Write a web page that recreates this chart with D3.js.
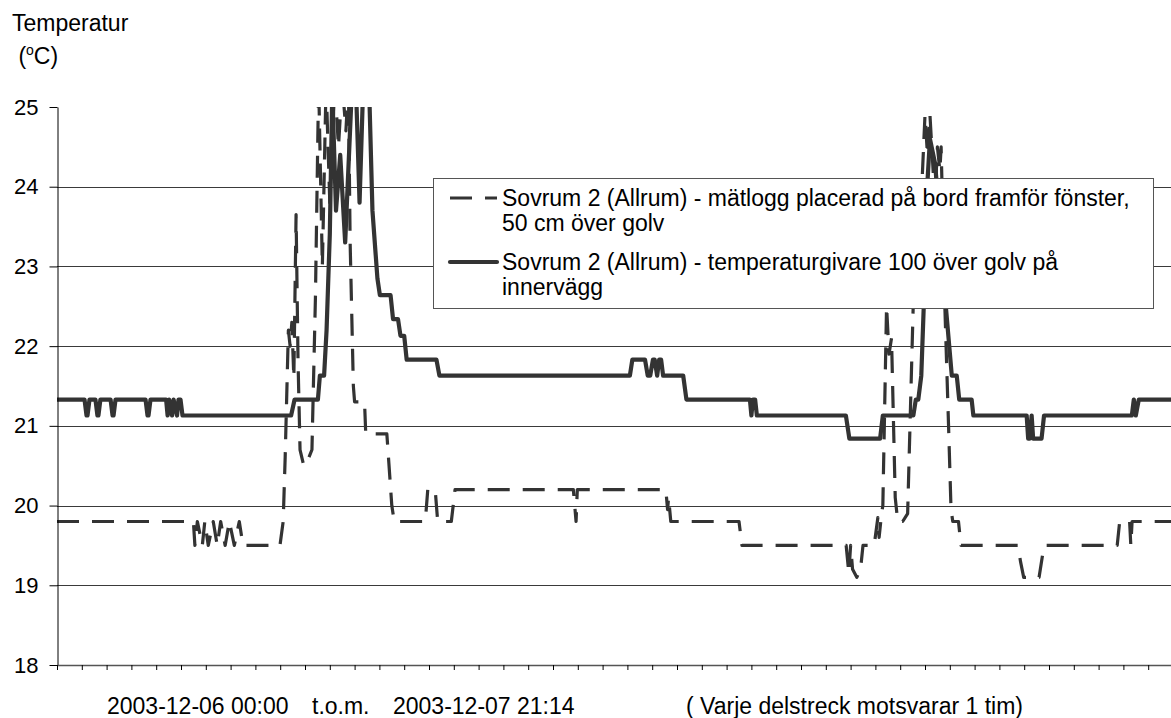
<!DOCTYPE html>
<html><head><meta charset="utf-8">
<script src="https://cdn.jsdelivr.net/npm/d3@7"></script>
<style>
html,body{margin:0;padding:0;background:#fff;}
svg{display:block;font-family:"Liberation Sans",Arial,sans-serif;}
</style></head><body>
<svg id="chart" width="1171" height="718"></svg>
<script>
// Measurement period: 2003-12-06 00:00 to 2003-12-07 21:14, time in hours from start
const periodHours = 45 + 14 / 60;
const hourTicks = d3.range(0, 46);
const tempTicks = [18, 19, 20, 21, 22, 23, 24, 25];
const gridTemps = [19, 20, 21, 22, 23, 24];

const legendLines = [
  ["Sovrum 2 (Allrum) - mätlogg placerad på bord framför fönster,", "50 cm över golv"],
  ["Sovrum 2 (Allrum) - temperaturgivare 100 över golv på", "innervägg"]
];

// Logger on the table in front of the window [hour, °C]
const loggTemps = [
  [0, 19.8], [5.50, 19.8], [5.56, 19.5], [5.66, 19.8], [5.86, 19.5], [5.96, 19.8], [6.10, 19.5],
  [6.30, 19.8], [6.46, 19.5], [6.60, 19.8], [6.78, 19.5], [6.95, 19.8], [7.15, 19.5], [7.35, 19.8],
  [7.50, 19.5], [8.99, 19.5], [9.12, 19.8], [9.20, 20.6], [9.33, 22.2], [9.40, 22.0], [9.47, 22.3],
  [9.55, 21.6], [9.64, 23.65], [9.72, 21.8], [9.80, 20.7], [9.95, 20.5], [10.15, 20.6], [10.28, 20.7],
  [10.42, 22.6], [10.55, 25.3], [10.70, 23.0], [10.85, 25.3], [11.00, 23.8], [11.20, 25.3],
  [11.35, 24.5], [11.50, 25.3], [11.65, 24.7], [11.75, 25.3], [11.82, 23.3], [11.95, 21.5],
  [12.00, 21.3], [12.40, 21.3], [12.45, 20.9], [13.30, 20.9], [13.50, 20.0], [13.60, 19.8],
  [14.85, 19.8], [14.95, 20.2], [15.25, 20.2], [15.35, 19.8], [15.90, 19.8], [16.05, 20.2],
  [20.82, 20.2], [20.93, 19.8], [20.98, 20.2], [24.55, 20.2], [24.62, 19.95], [24.66, 20.1],
  [24.75, 19.8], [27.50, 19.8], [27.62, 19.5], [31.82, 19.5], [31.93, 19.15], [32.00, 19.5],
  [32.08, 19.2], [32.25, 19.1], [32.40, 19.2], [32.50, 19.5], [32.95, 19.5], [33.10, 19.85],
  [33.15, 19.6], [33.25, 19.9], [33.30, 20.0], [33.45, 22.5], [33.55, 21.9], [33.65, 22.1],
  [33.80, 20.1], [33.90, 19.8], [34.10, 19.8], [34.30, 19.9], [34.55, 22.8], [34.80, 23.5],
  [35.00, 24.9], [35.10, 24.4], [35.20, 24.9], [35.40, 23.8], [35.50, 24.5], [35.60, 24.2],
  [35.65, 24.5], [35.80, 22.5], [35.95, 21.0], [36.05, 19.95], [36.12, 19.8], [36.35, 19.8],
  [36.45, 19.5], [38.75, 19.5], [38.85, 19.3], [38.98, 19.1], [39.60, 19.1], [39.80, 19.5],
  [42.75, 19.5], [42.85, 19.8], [43.25, 19.8], [43.30, 19.5], [43.35, 19.8], [periodHours, 19.8]
];

// Sensor on the inner wall, 100 cm above floor [hour, °C]
const givareTemps = [
  [0, 21.33], [1.11, 21.33], [1.19, 21.13], [1.23, 21.13], [1.31, 21.33],
  [1.55, 21.33], [1.63, 21.13], [1.67, 21.13], [1.75, 21.33],
  [2.16, 21.33], [2.24, 21.13], [2.28, 21.13], [2.36, 21.33],
  [3.57, 21.33], [3.65, 21.13], [3.69, 21.13], [3.77, 21.33],
  [4.40, 21.33], [4.46, 21.13], [4.52, 21.33], [4.64, 21.13], [4.70, 21.33],
  [4.84, 21.13], [4.90, 21.33], [4.98, 21.33], [5.06, 21.13],
  [9.44, 21.13], [9.58, 21.33], [10.52, 21.33], [10.60, 21.63], [10.77, 21.63],
  [10.87, 22.2], [11.00, 23.4], [11.10, 25.2], [11.25, 23.7], [11.42, 24.4], [11.62, 23.3],
  [11.90, 25.3], [12.05, 25.3], [12.20, 23.8], [12.35, 25.3], [12.58, 25.3], [12.72, 23.7],
  [12.92, 22.85], [13.02, 22.64], [13.45, 22.64], [13.55, 22.34], [13.75, 22.34],
  [13.85, 22.13], [14.00, 22.13], [14.10, 21.83], [15.30, 21.83], [15.42, 21.63],
  [23.10, 21.63], [23.20, 21.83], [23.71, 21.83], [23.82, 21.63], [23.92, 21.63],
  [24.03, 21.83], [24.10, 21.83], [24.20, 21.63], [24.28, 21.83], [24.36, 21.83],
  [24.44, 21.63], [25.25, 21.63], [25.38, 21.33], [27.94, 21.33], [28.00, 21.13],
  [28.06, 21.33], [28.15, 21.33], [28.22, 21.13], [31.81, 21.13], [31.95, 20.84],
  [33.19, 20.84], [33.30, 21.13], [34.53, 21.13], [34.63, 21.33], [34.73, 21.33],
  [34.85, 21.63], [34.95, 22.5], [35.05, 23.8], [35.20, 24.6], [35.40, 24.3], [35.60, 23.6],
  [35.85, 22.46], [36.08, 21.63], [36.28, 21.63], [36.38, 21.33], [36.88, 21.33],
  [36.95, 21.13], [39.10, 21.13], [39.16, 20.84], [39.22, 20.84], [39.30, 21.13],
  [39.36, 20.84], [39.70, 20.84], [39.80, 21.13], [43.34, 21.13], [43.42, 21.33],
  [43.50, 21.13], [43.62, 21.33], [periodHours, 21.33]
];

const svg = d3.select("#chart");
const plotLeft = 57, plotTop = 107, plotBottom = 665, hourPx = 24.8;
const x = d3.scaleLinear().domain([0, periodHours]).range([plotLeft, plotLeft + periodHours * hourPx]);
const y = d3.scaleLinear().domain([18, 25]).range([plotBottom, plotTop]);
const ink = "#333";
const fontSize = 23;

// horizontal gridlines
svg.append("g").selectAll("line").data(gridTemps).join("line")
  .attr("x1", plotLeft).attr("x2", 1171)
  .attr("y1", d => Math.round(y(d)) + 0.5).attr("y2", d => Math.round(y(d)) + 0.5)
  .attr("stroke", "#3a3a3a").attr("stroke-width", 1);

// clip region for the series
svg.append("defs").append("clipPath").attr("id", "plotClip")
  .append("rect").attr("x", plotLeft).attr("y", plotTop).attr("width", 1171 - plotLeft).attr("height", plotBottom - plotTop);

const line = d3.line().x(d => x(d[0])).y(d => y(d[1]));
const series = svg.append("g").attr("clip-path", "url(#plotClip)");
series.append("path").datum(loggTemps).attr("d", line)
  .attr("fill", "none").attr("stroke", ink).attr("stroke-width", 3.2)
  .attr("stroke-dasharray", "22,13").attr("stroke-linejoin", "round");
series.append("path").datum(givareTemps).attr("d", line)
  .attr("fill", "none").attr("stroke", ink).attr("stroke-width", 4.2)
  .attr("stroke-linejoin", "round").attr("stroke-linecap", "round");

// y axis
const yAxis = svg.append("g").attr("transform", `translate(${plotLeft + 0.5},0)`)
  .call(d3.axisLeft(y).tickValues(tempTicks).tickSize(8).tickPadding(11).tickSizeOuter(0).tickFormat(d3.format("d")));
yAxis.select(".domain").attr("stroke", "#000");
yAxis.selectAll(".tick line").attr("stroke", "#000");
yAxis.selectAll("text").attr("font-size", 22).attr("fill", "#000").attr("font-family", "Liberation Sans, Arial, sans-serif");

// x axis with one tick per hour
const xAxis = svg.append("g").attr("transform", `translate(0,${plotBottom})`)
  .call(d3.axisBottom(x).tickValues(hourTicks).tickSize(5).tickSizeOuter(0).tickFormat(""));
xAxis.select(".domain").attr("stroke", "#555").attr("stroke-width", 1.6);
xAxis.selectAll(".tick line").attr("stroke", "#000");

// axis titles
const txt = (s, tx, ty) => svg.append("text").attr("x", tx).attr("y", ty)
  .attr("font-size", fontSize).attr("fill", "#000").text(s);
txt("Temperatur", 12, 31);
const unit = svg.append("text").attr("x", 12).attr("y", 64).attr("font-size", fontSize).attr("fill", "#000")
  .attr("xml:space", "preserve");
unit.append("tspan").text(" (");
unit.append("tspan").attr("font-size", 14).attr("dy", -9).text("o");
unit.append("tspan").attr("dy", 9).text("C)");
txt("2003-12-06 00:00", 107, 714);
txt("t.o.m.", 312, 714);
txt("2003-12-07 21:14", 393, 714);
txt("( Varje delstreck motsvarar 1 tim)", 686, 714);

// legend
const lg = svg.append("g");
lg.append("rect").attr("x", 433.5).attr("y", 178.5).attr("width", 720).attr("height", 130)
  .attr("fill", "#fff").attr("stroke", "#555").attr("stroke-width", 1);
const keyY = [198, 262];
lg.append("line").attr("x1", 450).attr("x2", 497).attr("y1", keyY[0]).attr("y2", keyY[0])
  .attr("stroke", ink).attr("stroke-width", 3.2).attr("stroke-dasharray", "22,13");
lg.append("line").attr("x1", 450).attr("x2", 497).attr("y1", keyY[1]).attr("y2", keyY[1])
  .attr("stroke", ink).attr("stroke-width", 4.2).attr("stroke-linecap", "round");
legendLines.forEach((rows, i) => {
  rows.forEach((r, j) => {
    lg.append("text").attr("x", 502).attr("y", keyY[i] + 8 + j * 25)
      .attr("font-size", fontSize).attr("fill", "#000").text(r);
  });
});
</script>
</body></html>
